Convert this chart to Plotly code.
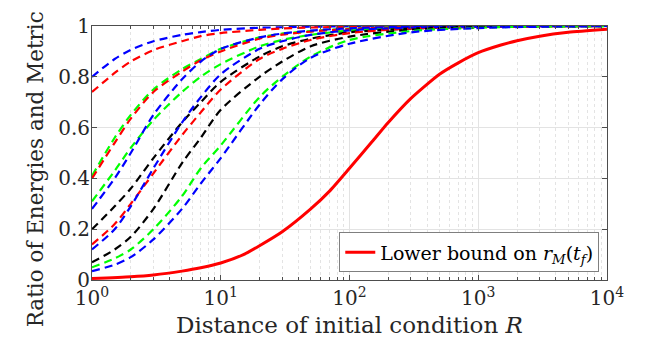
import plotly.graph_objects as go

# Distancia R (eje x, logaritmico)
R = [1, 1.5, 2, 3, 5, 7, 10, 20, 30, 50, 100, 300, 1000, 3000, 10000]

# curvas discontinuas (color, valores)
blue_1 = [0.80, 0.87, 0.906, 0.94, 0.965, 0.976, 0.985, 0.993, 0.995, 0.997, 0.999, 1.0, 1.0, 1.0, 1.0]
red_1 = [0.74, 0.815, 0.86, 0.905, 0.94, 0.96, 0.972, 0.985, 0.99, 0.994, 0.997, 0.999, 1.0, 1.0, 1.0]
green_1 = [0.41, 0.56, 0.65, 0.75, 0.83, 0.87, 0.91, 0.955, 0.97, 0.98, 0.99, 0.997, 0.999, 1.0, 1.0]
red_2 = [0.40, 0.54, 0.635, 0.74, 0.82, 0.865, 0.90, 0.95, 0.966, 0.978, 0.988, 0.996, 0.999, 1.0, 1.0]
green_2 = [0.31, 0.43, 0.52, 0.63, 0.74, 0.80, 0.85, 0.92, 0.945, 0.965, 0.982, 0.994, 0.998, 0.999, 1.0]
blue_2 = [0.28, 0.40, 0.50, 0.65, 0.79, 0.86, 0.91, 0.955, 0.97, 0.982, 0.991, 0.997, 0.999, 1.0, 1.0]
black_1 = [0.20, 0.29, 0.36, 0.48, 0.62, 0.70, 0.78, 0.88, 0.92, 0.95, 0.975, 0.99, 0.997, 0.999, 1.0]
red_3 = [0.14, 0.22, 0.30, 0.42, 0.57, 0.66, 0.75, 0.87, 0.91, 0.945, 0.972, 0.99, 0.997, 0.999, 1.0]
blue_3 = [0.12, 0.20, 0.29, 0.44, 0.62, 0.72, 0.81, 0.91, 0.94, 0.965, 0.983, 0.994, 0.998, 1.0, 1.0]
black_2 = [0.07, 0.12, 0.17, 0.28, 0.46, 0.56, 0.67, 0.80, 0.86, 0.92, 0.958, 0.986, 0.995, 0.998, 0.9995]
green_3 = [0.05, 0.085, 0.12, 0.20, 0.33, 0.44, 0.53, 0.72, 0.80, 0.88, 0.945, 0.98, 0.993, 0.998, 0.9995]
blue_4 = [0.035, 0.06, 0.09, 0.16, 0.28, 0.38, 0.48, 0.69, 0.79, 0.875, 0.93, 0.975, 0.992, 0.997, 0.9995]

# cota inferior (linea continua roja)
R_lb = [1, 2, 3, 5, 7, 10, 15, 20, 30, 50, 70, 100, 150, 200, 300, 500, 700,
        1000, 1500, 2000, 3000, 5000, 10000]
lower_bound = [0.006, 0.013, 0.02, 0.035, 0.048, 0.067, 0.10, 0.135, 0.19, 0.28, 0.35,
               0.44, 0.545, 0.62, 0.715, 0.81, 0.855, 0.895, 0.925, 0.942, 0.96, 0.975, 0.987]

BLUE = '#0000FF'
RED = '#FF0000'
GREEN = '#00FF00'
BLACK = '#000000'

dashed = [
    (blue_1, BLUE), (red_1, RED), (green_1, GREEN), (red_2, RED),
    (green_2, GREEN), (blue_2, BLUE), (black_1, BLACK), (red_3, RED),
    (blue_3, BLUE), (black_2, BLACK), (green_3, GREEN), (blue_4, BLUE),
]

FONT = "DejaVu Serif"
AXIS_TXT = "#262626"

fig = go.Figure()
for vals, col in dashed:
    fig.add_trace(go.Scatter(x=R, y=vals, mode="lines", showlegend=False,
        line=dict(color=col, width=2.2, dash="8px,5px", shape="spline", smoothing=0.8)))

fig.add_trace(go.Scatter(x=R_lb, y=lower_bound, mode="lines",
    name="Lower bound on <i>r</i><sub><i>M</i></sub>(<i>t</i><sub><i>f</i></sub>)",
    line=dict(color=RED, width=3, shape="spline", smoothing=0.6)))

# margenes ajustados al desplazamiento de la pagina
fig.update_layout(
    width=664, height=349,
    margin=dict(l=84, r=65, t=18, b=77),
    paper_bgcolor="white", plot_bgcolor="white",
    font=dict(family=FONT, size=20, color=AXIS_TXT),
    legend=dict(x=0.985, y=0.03, xanchor="right", yanchor="bottom",
                bgcolor="white", bordercolor="#7f7f7f", borderwidth=1, itemwidth=30,
                font=dict(family=FONT, size=19, color="#000000")),
)

fig.update_xaxes(
    type="log", range=[0, 4], automargin=False,
    tickvals=[1, 10, 100, 1000, 10000],
    ticktext=["10<sup>0</sup>", "10<sup>1</sup>", "10<sup>2</sup>", "10<sup>3</sup>", "10<sup>4</sup>"],
    ticks="inside", ticklen=5, tickcolor="#4d4d4d",
    showline=True, linecolor="#4d4d4d", linewidth=1, mirror="ticks",
    showgrid=True, gridcolor="#e3e3e3", gridwidth=1,
    minor=dict(ticks="inside", ticklen=3, tickcolor="#4d4d4d", showgrid=True,
               gridcolor="#e3e3e3", griddash="dot", dtick="D1"),
    zeroline=False,
    tickfont=dict(size=20),
)

fig.update_yaxes(
    range=[0, 1], automargin=False, tickvals=[0, 0.2, 0.4, 0.6, 0.8, 1],
    ticktext=["0", "0.2", "0.4", "0.6", "0.8", "1"],
    ticks="inside", ticklen=5, tickcolor="#4d4d4d",
    showline=True, linecolor="#4d4d4d", linewidth=1, mirror="ticks",
    showgrid=True, gridcolor="#e3e3e3", gridwidth=1,
    zeroline=False, ticklabelstandoff=-3,
    tickfont=dict(size=20),
)

# titulos de ejes como anotaciones para fijar su posicion
fig.add_annotation(text="Distance of initial condition <i>R</i>", xref="paper", yref="paper",
                   x=0.5, y=-0.177, xanchor="center", yanchor="middle", showarrow=False,
                   font=dict(family=FONT, size=23, color=AXIS_TXT))
fig.add_annotation(text="Ratio of Energies and Metric", xref="paper", yref="paper",
                   x=-0.11, y=0.437, xanchor="center", yanchor="middle", showarrow=False,
                   textangle=-90, font=dict(family=FONT, size=21.5, color=AXIS_TXT))

fig.write_html("out.html")
